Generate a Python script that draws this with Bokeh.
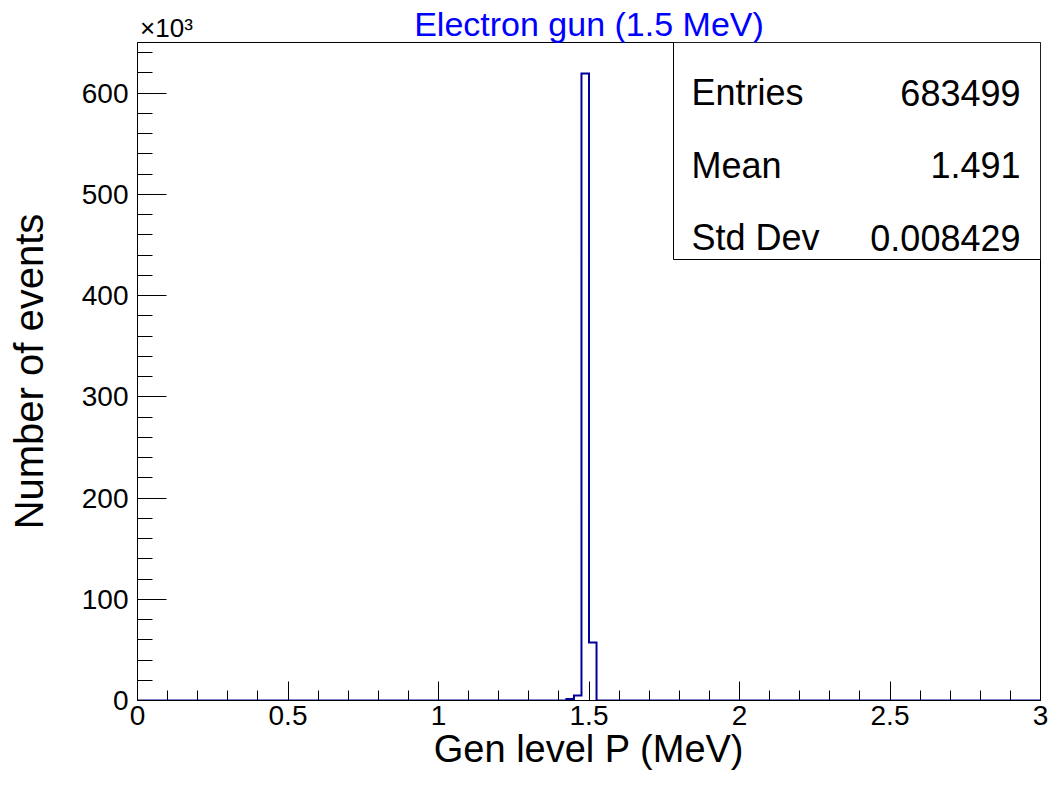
import numpy as np
from bokeh.plotting import figure
from bokeh.models import Range1d, FixedTicker, Label, BoxAnnotation, LinearAxis
from bokeh.embed import file_html
from bokeh.resources import INLINE

# ---------------- data ----------------
bin_width = 0.025
x_min, x_max = 0.0, 3.0
filled_bin_lo = [1.425, 1.450, 1.475, 1.500]
filled_counts = [1500, 4900, 619500, 57300]

x_ticks = [0, 0.5, 1, 1.5, 2, 2.5, 3]
x_tick_labels = ["0", "0.5", "1", "1.5", "2", "2.5", "3"]
y_ticks = [0, 100000, 200000, 300000, 400000, 500000, 600000]
y_tick_labels = ["0", "100", "200", "300", "400", "500", "600"]
y_max = 650000
y_multiplier_label = "\u00d710\u00b3"

stats_names = ["Entries", "Mean", "Std Dev"]
stats_values = ["683499", "1.491", "0.008429"]

title_text = "Electron gun (1.5 MeV)"
x_title = "Gen level P (MeV)"
y_title = "Number of events"

# ---------------- histogram outline ----------------
n_bins = int(round((x_max - x_min) / bin_width))
edges = np.linspace(x_min, x_max, n_bins + 1)
counts = np.zeros(n_bins)
for lo, c in zip(filled_bin_lo, filled_counts):
    counts[int(round((lo - x_min) / bin_width))] = c
step_x = np.repeat(edges, 2)
step_y = np.concatenate([[0], np.repeat(counts, 2), [0]])

# ---------------- layout geometry (canvas pixels) ----------------
W, H = 1048, 780
F_LEFT, F_RIGHT, F_TOP, F_BOTTOM = 137, 1040, 42, 700


def X(px):
    return x_min + (px - F_LEFT) / (F_RIGHT - F_LEFT) * (x_max - x_min)


def Y(py):
    return (F_BOTTOM - py) / (F_BOTTOM - F_TOP) * y_max


FONT = "Liberation Sans"

p = figure(width=W, height=H, output_backend="svg", toolbar_location=None,
           x_range=Range1d(x_min, x_max), y_range=Range1d(0, y_max),
           min_border_left=F_LEFT, min_border_right=W - F_RIGHT,
           min_border_top=F_TOP, min_border_bottom=H - F_BOTTOM)
p.xgrid.visible = False
p.ygrid.visible = False
p.outline_line_color = "black"
p.outline_line_width = 1
p.background_fill_color = "white"
p.border_fill_color = "white"

p.line(step_x, step_y, line_color="#000099", line_width=2, line_join="miter")

# axes
xa = p.xaxis[0]
xa.ticker = FixedTicker(ticks=x_ticks, minor_ticks=[round(i * 0.1, 1) for i in range(31)])
xa.major_label_overrides = {t: s for t, s in zip(x_ticks, x_tick_labels)}
xa.major_tick_in = 19
xa.major_tick_out = 0
xa.minor_tick_in = 10
xa.minor_tick_out = 0
xa.major_label_standoff = 5
xa.major_label_text_font = FONT
xa.major_label_text_font_size = "28px"
xa.major_label_text_color = "black"
xa.axis_line_color = "black"
xa.major_tick_line_color = "black"
xa.minor_tick_line_color = "black"
xa.axis_label = x_title
xa.axis_label_text_font = FONT
xa.axis_label_text_font_size = "38px"
xa.axis_label_text_font_style = "normal"
xa.axis_label_text_color = "black"
xa.axis_label_standoff = 0

ya = p.yaxis[0]
ya.ticker = FixedTicker(ticks=y_ticks, minor_ticks=[i * 20000 for i in range(33)])
ya.major_label_overrides = {t: s for t, s in zip(y_ticks, y_tick_labels)}
ya.major_tick_in = 29
ya.major_tick_out = 0
ya.minor_tick_in = 15
ya.minor_tick_out = 0
ya.major_label_standoff = 9
ya.major_label_text_font = FONT
ya.major_label_text_font_size = "28px"
ya.major_label_text_color = "black"
ya.axis_line_color = "black"
ya.major_tick_line_color = "black"
ya.minor_tick_line_color = "black"
ya.axis_label = y_title
ya.axis_label_text_font = FONT
ya.axis_label_text_font_size = "40px"
ya.axis_label_text_font_style = "normal"
ya.axis_label_text_color = "black"
ya.axis_label_standoff = 28

# top band: the "x10^3" multiplier (tick label) and the blue title (axis label)
mult_x = X(166)
top = LinearAxis(ticker=FixedTicker(ticks=[mult_x], minor_ticks=[]),
                 major_label_overrides={mult_x: y_multiplier_label})
top.axis_line_color = None
top.major_tick_line_color = None
top.minor_tick_line_color = None
top.major_tick_in = 0
top.major_tick_out = 0
top.minor_tick_in = 0
top.minor_tick_out = 0
top.major_label_standoff = 0
top.major_label_text_font = FONT
top.major_label_text_font_size = "26px"
top.major_label_text_color = "black"
top.axis_label = title_text
top.axis_label_text_font = FONT
top.axis_label_text_font_size = "34px"
top.axis_label_text_font_style = "normal"
top.axis_label_text_color = "#0000ff"
top.axis_label_standoff = -33
p.add_layout(top, "above")

# stats box
p.add_layout(BoxAnnotation(left=X(F_RIGHT - 367), right=x_max, bottom=Y(259), top=y_max,
                           fill_color="white", fill_alpha=1.0, line_color="black",
                           line_width=1, line_alpha=1.0))
for i, (nm, vl) in enumerate(zip(stats_names, stats_values)):
    base = 92 + i * 72.5
    p.add_layout(Label(x=X(F_RIGHT - 349), y=Y(base), text=nm, text_align="left",
                       text_baseline="alphabetic", text_font=FONT, text_font_size="36px",
                       text_color="black"))
    p.add_layout(Label(x=X(F_RIGHT - 20), y=Y(base), text=vl, text_align="right",
                       text_baseline="alphabetic", text_font=FONT, text_font_size="36px",
                       text_color="black"))

open("out.html", "w").write(file_html(p, INLINE))
